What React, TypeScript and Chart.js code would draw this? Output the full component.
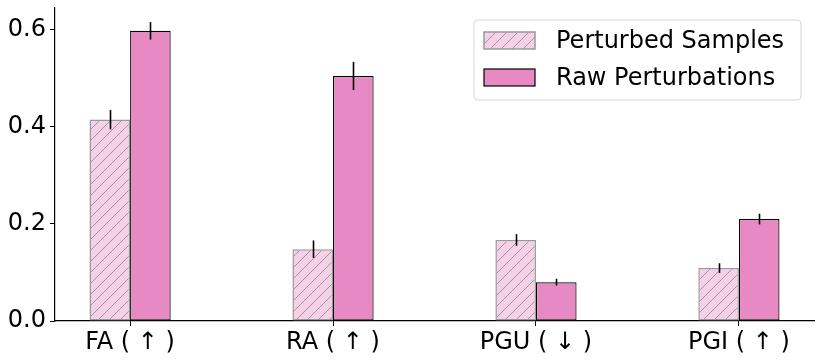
import React, { useEffect, useRef } from "react";
import { Chart, registerables } from "chart.js";

Chart.register(...registerables);

const CATEGORIES = ["FA ( \u2191 )", "RA ( \u2191 )", "PGU ( \u2193 )", "PGI ( \u2191 )"];
const SERIES_NAMES = ["Perturbed Samples", "Raw Perturbations"];
const PERTURBED = [0.415, 0.148, 0.167, 0.109];
const PERTURBED_ERR = [0.02, 0.018, 0.012, 0.01];
const RAW = [0.598, 0.505, 0.08, 0.21];
const RAW_ERR = [0.018, 0.029, 0.007, 0.011];
const Y_TICKS = [0, 0.2, 0.4, 0.6];

const FONT = "DejaVu Sans";
const RAW_COLOR = "#e78ac3";
const PERT_FILL = "#f5d0e7";
const PERT_EDGE = "#999999";

function makeHatch(): CanvasPattern | string {
  const s = 11;
  const c = document.createElement("canvas");
  c.width = s;
  c.height = s;
  const ctx = c.getContext("2d");
  if (!ctx) return PERT_FILL;
  ctx.fillStyle = PERT_FILL;
  ctx.fillRect(0, 0, s, s);
  ctx.strokeStyle = "#999999";
  ctx.lineWidth = 1;
  ctx.beginPath();
  ctx.moveTo(0, s);
  ctx.lineTo(s, 0);
  ctx.moveTo(-2, 2);
  ctx.lineTo(2, -2);
  ctx.moveTo(s - 2, s + 2);
  ctx.lineTo(s + 2, s - 2);
  ctx.stroke();
  return ctx.createPattern(c, "repeat") || PERT_FILL;
}

const ERRORS = [PERTURBED_ERR, RAW_ERR];

const errorBarPlugin = {
  id: "errorBars",
  afterDatasetsDraw(chart: any) {
    const ctx = chart.ctx;
    const y = chart.scales.y;
    ctx.save();
    ctx.strokeStyle = "#000";
    ctx.lineWidth = 1.6;
    chart.data.datasets.forEach((ds: any, d: number) => {
      const meta = chart.getDatasetMeta(d);
      meta.data.forEach((el: any, i: number) => {
        const v = ds.data[i].y;
        const e = ERRORS[d][i];
        ctx.beginPath();
        ctx.moveTo(Math.round(el.x) + 0.5, y.getPixelForValue(v - e));
        ctx.lineTo(Math.round(el.x) + 0.5, y.getPixelForValue(v + e));
        ctx.stroke();
      });
    });
    ctx.restore();
  },
};

const legendPlugin = {
  id: "boxLegend",
  afterDraw(chart: any) {
    const ctx = chart.ctx;
    const area = chart.chartArea;
    ctx.save();
    ctx.font = `24px "${FONT}"`;
    const padL = 10;
    const swW = 51;
    const swH = 17;
    const gap = 21;
    const boxW = 327;
    const boxH = 80;
    const right = area.right - 13;
    const left = right - boxW;
    const top = area.top + 12;
    ctx.beginPath();
    const r = 4;
    ctx.moveTo(left + r, top);
    ctx.arcTo(left + boxW, top, left + boxW, top + boxH, r);
    ctx.arcTo(left + boxW, top + boxH, left, top + boxH, r);
    ctx.arcTo(left, top + boxH, left, top, r);
    ctx.arcTo(left, top, left + boxW, top, r);
    ctx.closePath();
    ctx.fillStyle = "rgba(255,255,255,0.8)";
    ctx.fill();
    ctx.strokeStyle = "#d6d6d6";
    ctx.lineWidth = 1;
    ctx.stroke();
    const rows = [top + 20.5, top + 57.5];
    chart.data.datasets.forEach((ds: any, d: number) => {
      const cy = rows[d];
      const sx = left + padL;
      const sy = cy - swH / 2;
      ctx.fillStyle = ds.backgroundColor;
      ctx.fillRect(sx, sy, swW, swH);
      ctx.strokeStyle = ds.borderColor;
      ctx.lineWidth = ds.borderWidth;
      ctx.strokeRect(sx, sy, swW, swH);
      ctx.fillStyle = "#000";
      ctx.textBaseline = "middle";
      ctx.textAlign = "left";
      ctx.fillText(SERIES_NAMES[d], sx + swW + gap, cy + 1);
    });
    ctx.restore();
  },
};

export default function App() {
  const ref = useRef<HTMLCanvasElement>(null);
  useEffect(() => {
    if (!ref.current) return;
    Chart.defaults.font.family = FONT;
    const hatch = makeHatch();
    const chart = new Chart(ref.current, {
      type: "bar",
      data: {
        datasets: [
          {
            label: SERIES_NAMES[0],
            data: CATEGORIES.map((_, i) => ({ x: i, y: PERTURBED[i] })),
            backgroundColor: hatch as any,
            borderColor: PERT_EDGE,
            borderWidth: 1.5,
            borderSkipped: false,
            categoryPercentage: 0.4,
            barPercentage: 1.0,
          },
          {
            label: SERIES_NAMES[1],
            data: CATEGORIES.map((_, i) => ({ x: i, y: RAW[i] })),
            backgroundColor: RAW_COLOR,
            borderColor: "#000000",
            borderWidth: 1.2,
            borderSkipped: false,
            categoryPercentage: 0.4,
            barPercentage: 1.0,
          },
        ] as any,
      },
      options: {
        animation: false,
        responsive: false,
        maintainAspectRatio: false,
        layout: { padding: { top: 8, right: 8, left: 0, bottom: 0 } },
        plugins: { legend: { display: false }, tooltip: { enabled: false } },
        scales: {
          x: {
            type: "linear",
            offset: false,
            min: -0.37,
            max: 3.37,
            afterBuildTicks: (scale: any) => {
              scale.ticks = CATEGORIES.map((_, i) => ({ value: i }));
            },
            afterFit: (scale: any) => {
              scale.height = 41;
              scale.paddingLeft = 0;
              scale.paddingRight = 0;
            },
            ticks: {
              autoSkip: false,
              maxRotation: 0,
              padding: 2,
              color: "#000",
              font: { size: 24, family: FONT },
              callback: (v: any) => CATEGORIES[Math.round(Number(v))] ?? "",
            },
            grid: { offset: false, drawOnChartArea: false, drawTicks: true, tickLength: 5, color: "#000", lineWidth: 1 },
            border: { display: true, color: "#000", width: 1.2 },
          },
          y: {
            type: "linear",
            min: 0,
            max: 0.645,
            afterBuildTicks: (scale: any) => {
              scale.ticks = Y_TICKS.map((v) => ({ value: v }));
            },
            afterFit: (scale: any) => {
              scale.width = 55;
              scale.paddingTop = 0;
              scale.paddingBottom = 0;
            },
            ticks: {
              padding: 4,
              color: "#000",
              font: { size: 24, family: FONT },
              callback: (v: any) => Number(v).toFixed(1),
            },
            grid: { drawOnChartArea: false, drawTicks: true, tickLength: 5, color: "#000", lineWidth: 1 },
            border: { display: true, color: "#000", width: 1.2 },
          },
        },
      } as any,
      plugins: [errorBarPlugin, legendPlugin],
    });
    return () => chart.destroy();
  }, []);
  return (
    <div style={{ position: "absolute", left: 0, top: 0, width: 822, height: 362, background: "#fff" }}>
      <canvas ref={ref} width={822} height={362} style={{ width: 822, height: 362, display: "block" }} />
    </div>
  );
}
